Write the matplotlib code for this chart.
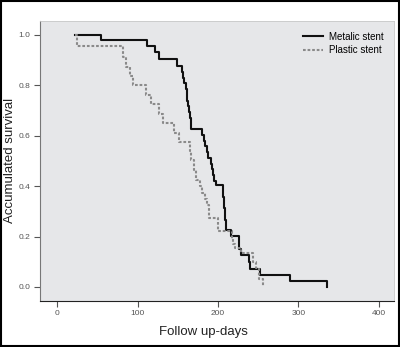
import matplotlib
matplotlib.use("Agg")
import matplotlib.pyplot as plt
from matplotlib.patches import Rectangle

plt.rcParams['font.family'] = ['Liberation Sans', 'DejaVu Sans']

# Kaplan-Meier steps (time in days, survival)
metal_t = [22, 55, 112, 122, 127, 149, 155, 157, 158, 160, 161, 162, 163, 164, 165,
           166, 167, 180, 182, 184, 186, 188, 191, 193, 194, 195, 197, 206, 206.5, 207,
           208, 208.5, 209, 209.5, 210, 216, 226, 226.5, 229, 238, 240, 252, 290, 336]
metal_s = [1.0, 0.977, 0.955, 0.932, 0.905, 0.875, 0.852, 0.83, 0.807, 0.784, 0.761, 0.739, 0.716, 0.693, 0.67,
           0.648, 0.625, 0.602, 0.58, 0.557, 0.534, 0.511, 0.489, 0.466, 0.443, 0.42, 0.404, 0.381, 0.358, 0.335,
           0.312, 0.29, 0.267, 0.244, 0.224, 0.202, 0.182, 0.15, 0.125, 0.1, 0.072, 0.047, 0.025, 0.0]

plastic_t = [22, 24, 82, 86, 90, 94, 111, 116, 127, 131, 145, 151, 165, 167, 170,
             173, 177, 180, 184, 186, 189, 200, 217, 219, 221, 229, 244, 247, 251, 256]
plastic_s = [1.0, 0.955, 0.91, 0.87, 0.835, 0.80, 0.76, 0.725, 0.685, 0.648, 0.61, 0.575, 0.54, 0.503, 0.465,
             0.424, 0.40, 0.372, 0.35, 0.325, 0.272, 0.223, 0.19, 0.17, 0.153, 0.133, 0.10, 0.074, 0.03, 0.0]

labels = ['Metalic stent', 'Plastic stent']
xticks = [0, 100, 200, 300, 400]
yticks = [0.0, 0.2, 0.4, 0.6, 0.8, 1.0]

fig = plt.figure(figsize=(4.0, 3.47), dpi=100)
ax = fig.add_axes([0.099, 0.133, 0.886, 0.807])
ax.set_facecolor('#e6e7e9')

ax.step(metal_t, metal_s, where='post', color='#111111', lw=1.5, label=labels[0])
ax.step(plastic_t, plastic_s, where='post', color='#8a8a8a', lw=1.5,
        linestyle=(0, (1.3, 0.9)), label=labels[1])

ax.set_xlim(-22, 419)
ax.set_ylim(-0.055, 1.055)
ax.set_xticks(xticks)
ax.set_yticks(yticks)
ax.set_yticklabels([f'{v:.1f}' for v in yticks])
ax.tick_params(labelsize=6, labelcolor='#555555', color='#555555', length=4, width=0.8, pad=2.5)

for s in ['top', 'right']:
    ax.spines[s].set_color('#c8c8c8')
    ax.spines[s].set_linewidth(0.6)
ax.spines['left'].set_color('#777777')
ax.spines['bottom'].set_color('#222222')

ax.set_xlabel('Follow up-days', fontsize=9.5, color='#222222')
ax.set_ylabel('Accumulated survival', fontsize=9.5, color='#222222')
ax.xaxis.set_label_coords(0.463, -0.09)
ax.yaxis.set_label_coords(-0.066, 0.5)

ax.legend(loc='upper right', frameon=False, fontsize=7, handlelength=2.0,
          handletextpad=0.6, borderaxespad=0.7, labelspacing=0.35)

# black frame around the whole picture
fig.patches.append(Rectangle((0.003, 0.004), 0.994, 0.992, transform=fig.transFigure,
                             fill=False, edgecolor='black', lw=1.5))

fig.savefig('out.png', dpi=100)
